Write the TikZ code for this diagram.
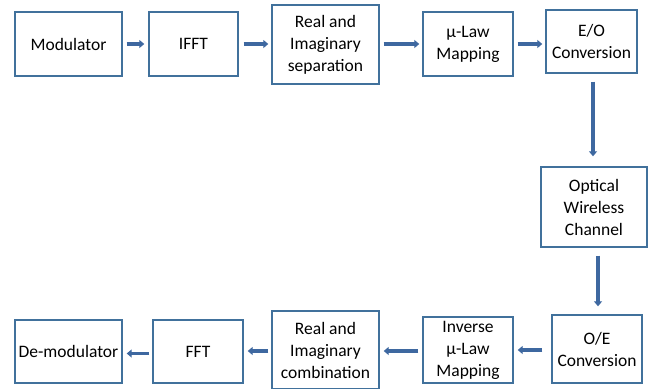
\documentclass[tikz,border=0pt]{standalone}
\usepackage{fontspec}
\setmainfont{Carlito}
\usetikzlibrary{arrows.meta}

\definecolor{boxline}{RGB}{65,113,156}
\definecolor{flowline}{RGB}{62,104,160}

\tikzset{
	block/.style={draw=boxline, line width=1.4bp, inner sep=0pt, align=center,
		font=\fontsize{17.5bp}{22bp}\selectfont},
	flow/.style={draw=flowline, line width=3.2bp,
		-{Triangle[length=5bp,width=8bp]}},
}

\begin{document}
\begin{tikzpicture}[x=1bp,y=-1bp]

% canvas %{{{2

	\useasboundingbox (0,0) rectangle (648,388);

% transmitter row %{{{2

	\node[block, minimum width=107bp, minimum height=64bp] (mod) at (68.5,44) {Modulator};
	\node[block, minimum width=89bp, minimum height=64bp] (ifft) at (193.5,44) {IFFT};
	\node[block, minimum width=107bp, minimum height=79bp] (sep) at (325.5,44.5) {Real and\\Imaginary\\separation};
	\node[block, minimum width=90bp, minimum height=64bp] (mulaw) at (468,44) {µ-Law\\Mapping};
	\node[block, minimum width=91bp, minimum height=63bp] (eo) at (591.5,41.5) {E/O\\Conversion};

% channel %{{{2

	\node[block, minimum width=106bp, minimum height=80bp] (owc) at (594,207) {Optical\\Wireless\\Channel};

% receiver row %{{{2

	\node[block, minimum width=90bp, minimum height=68bp] (oe) at (597,349) {O/E\\Conversion};
	\node[block, minimum width=90bp, minimum height=66bp] (imulaw) at (468,350) {Inverse\\µ-Law\\Mapping};
	\node[block, minimum width=107bp, minimum height=78bp] (comb) at (325.5,350) {Real and\\Imaginary\\combination};
	\node[block, minimum width=90bp, minimum height=63bp] (fft) at (198,351.5) {FFT};
	\node[block, minimum width=107bp, minimum height=63bp] (demod) at (68.5,351.5) {De-modulator};

% arrows %{{{2

	\draw[flow, shorten <=4bp, shorten >=4bp] (mod.east) -- (mod.east -| ifft.west);
	\draw[flow, shorten <=5bp, shorten >=3bp] (ifft.east) -- (ifft.east -| sep.west);
	\draw[flow, shorten <=4bp, shorten >=3bp] (mod.east -| sep.east) -- (mod.east -| mulaw.west);
	\draw[flow, shorten <=4bp, shorten >=3bp] (mulaw.east) -- (mulaw.east -| eo.west);

	% ---- down through the channel

	\draw[flow, shorten <=8bp, shorten >=10bp] ([xshift=1.5bp]eo.south) -- ([xshift=1.5bp]eo.south |- owc.north);
	\draw[flow, shorten <=8bp, shorten >=8bp] ([xshift=1bp]oe.north |- owc.south) -- ([xshift=1bp]oe.north);

	% ---- back along the bottom

	\draw[flow, shorten <=9bp, shorten >=4bp] ([yshift=-1bp]oe.west) -- ([yshift=-1bp]oe.west -| imulaw.east);
	\draw[flow, shorten <=4bp, shorten >=4bp] ([yshift=-1bp]imulaw.west) -- ([yshift=-1bp]imulaw.west -| comb.east);
	\draw[flow, shorten <=3bp, shorten >=4bp] ([yshift=-1bp]comb.west) -- ([yshift=-1bp]comb.west -| fft.east);
	\draw[flow, shorten <=3bp, shorten >=4bp] ([yshift=-2bp]fft.west) -- ([yshift=-2bp]fft.west -| demod.east);

% closing %{{{2

\end{tikzpicture}
\end{document}
